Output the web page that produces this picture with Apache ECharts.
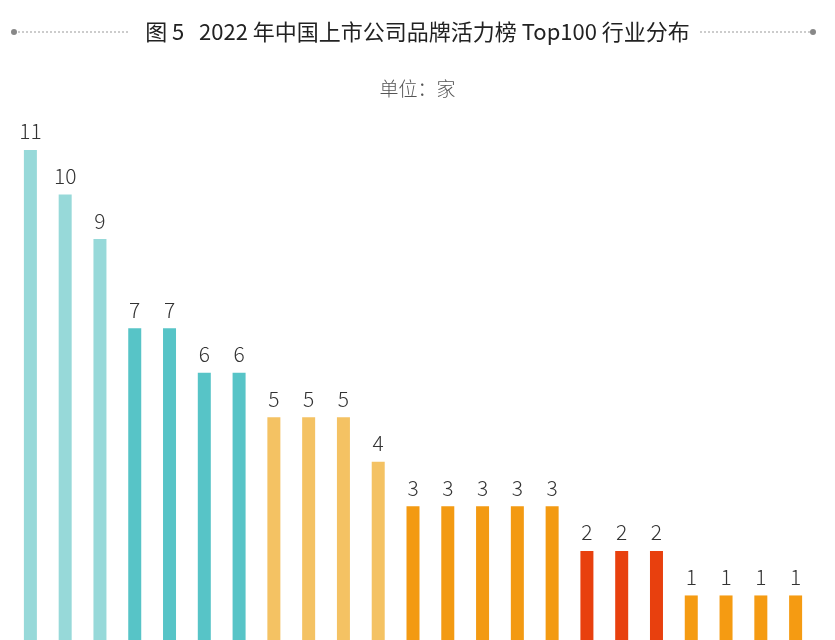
<!DOCTYPE html>
<html>
<head>
<meta charset="utf-8">
<script src="https://cdn.jsdelivr.net/npm/echarts@6/dist/echarts.min.js"></script>
<style>html,body{margin:0;padding:0;background:#fff}#chart{width:835px;height:640px}</style>
</head>
<body>
<div id="chart"></div>
<script>
// values, one per industry bar
const values = [11, 10, 9, 7, 7, 6, 6, 5, 5, 5, 4, 3, 3, 3, 3, 3, 2, 2, 2, 1, 1, 1, 1];
const colors = [
  '#97d9d9', '#97d9d9', '#97d9d9',
  '#57c4c7', '#57c4c7', '#57c4c7', '#57c4c7',
  '#f4c263', '#f4c263', '#f4c263', '#f4c263',
  '#f39a12', '#f39a12', '#f39a12', '#f39a12', '#f39a12',
  '#e8400e', '#e8400e', '#e8400e',
  '#f59b12', '#f59b12', '#f59b12', '#f59b12'
];
const categories = values.map((v, i) => 'c' + (i + 1));

const chart = echarts.init(document.getElementById('chart'));
const font = '"Noto Sans CJK SC", "Noto Sans", sans-serif';

chart.setOption({
  animation: false,
  textStyle: { fontFamily: font },
  title: [
    { text: '图 5   2022 年中国上市公司品牌活力榜 Top100 行业分布', left: 'center', top: 16,
      textStyle: { fontSize: 22, fontWeight: 'normal', color: '#222', fontFamily: font } },
    { text: '单位：家', left: 'center', top: 74,
      textStyle: { fontSize: 19, fontWeight: 300, color: '#555', fontFamily: font } }
  ],
  graphic: [
    { type: 'line', shape: { x1: 14, y1: 32, x2: 128, y2: 32 }, style: { stroke: '#999', lineDash: [2, 2], lineWidth: 1 } },
    { type: 'line', shape: { x1: 700, y1: 32, x2: 813, y2: 32 }, style: { stroke: '#999', lineDash: [2, 2], lineWidth: 1 } },
    { type: 'circle', shape: { cx: 14, cy: 32, r: 3 }, style: { fill: '#888' } },
    { type: 'circle', shape: { cx: 813, cy: 32, r: 3 }, style: { fill: '#888' } }
  ],
  grid: { left: 13, width: 800, top: 150, height: 517 },
  xAxis: {
    type: 'category', data: categories,
    axisLine: { show: false }, axisTick: { show: false }, axisLabel: { show: false }
  },
  yAxis: {
    type: 'value', min: 0, max: 11,
    show: false, splitLine: { show: false }
  },
  series: [{
    type: 'bar',
    barWidth: 13,
    data: values.map((v, i) => ({ value: v, itemStyle: { color: colors[i] } })),
    label: { show: true, position: 'top', distance: 8, fontSize: 21, fontWeight: 300, color: '#333', fontFamily: font }
  }]
});
</script>
</body>
</html>
